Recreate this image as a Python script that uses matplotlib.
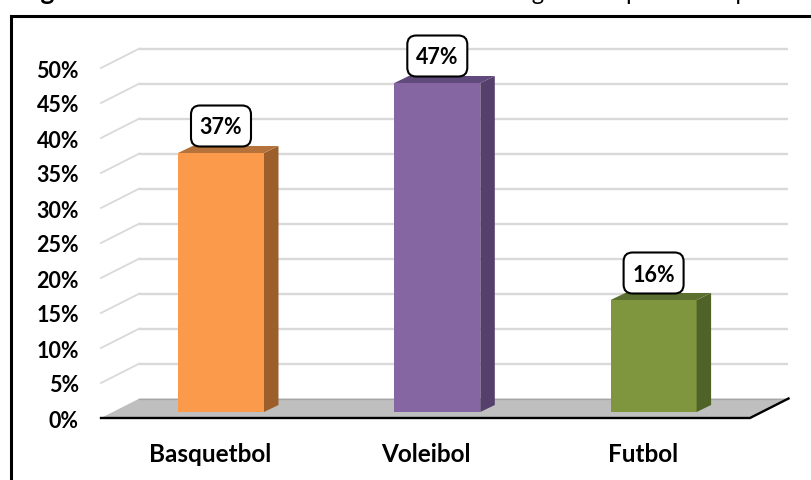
import matplotlib
matplotlib.use('Agg')
import matplotlib.pyplot as plt
from matplotlib.lines import Line2D
from matplotlib.patches import FancyBboxPatch

plt.rcParams['font.family'] = ['Lato', 'DejaVu Sans']

# Data
categories = ['Basquetbol', 'Voleibol', 'Futbol']
values = [37, 47, 16]
tick_values = list(range(0, 55, 5))
front_colors = ['#FB9A4B', '#8566A3', '#7F963F']
side_colors = ['#9C5F2B', '#553F6B', '#4F6228']
top_colors = ['#B5723A', '#604A7B', '#5B7030']

W, H = 812, 480
x_unit = 216.3   # pixels per category
y_unit = 7.0     # pixels per percent
x_origin = 221   # pixel of the first category
y_origin = 412   # pixel of 0% at the bar foot

fig = plt.figure(figsize=(W / 100, H / 100), dpi=100)
ax = fig.add_axes([0, 0, 1, 1])
ax.set_xlim(-x_origin / x_unit, (W - x_origin) / x_unit)
ax.set_ylim((y_origin - H) / y_unit, y_origin / y_unit)
ax.axis('off')

# Depth offsets, in data units
floor_dx = 38.5 / x_unit
floor_dy = 19.5 / y_unit
floor_y = -6 / y_unit
bar_dx = 14.5 / x_unit
bar_dy = 7 / y_unit
half_w = 43 / x_unit
left_x = (101 - x_origin) / x_unit
right_x = (750 - x_origin) / x_unit

# Back wall gridlines and the slanted part on the left side
for v in tick_values[1:]:
    y0 = floor_y + v
    ax.plot([left_x + floor_dx, right_x + floor_dx], [y0 + floor_dy] * 2,
            color='#D9D9D9', lw=1.7, solid_capstyle='butt', zorder=1)
    ax.plot([left_x, left_x + floor_dx], [y0, y0 + floor_dy],
            color='#D9D9D9', lw=1.3, zorder=1)

# Floor
ax.fill([left_x, left_x + floor_dx, right_x + floor_dx, right_x],
        [floor_y, floor_y + floor_dy, floor_y + floor_dy, floor_y],
        color='#BFBFBF', lw=0, zorder=2)
ax.plot([left_x + floor_dx, right_x + floor_dx], [floor_y + floor_dy] * 2,
        color='#A6A6A6', lw=0.9, zorder=2)
ax.plot([left_x, right_x, right_x + floor_dx], [floor_y, floor_y, floor_y + floor_dy],
        color='black', lw=1.7, zorder=3)

# Bars with side and top faces
for i, v in enumerate(values):
    xl = i - half_w
    xr = i + half_w
    ax.bar(i, v, width=2 * half_w, color=front_colors[i], lw=0, zorder=4)
    ax.fill([xr, xr + bar_dx, xr + bar_dx, xr], [0, bar_dy, v + bar_dy, v],
            color=side_colors[i], lw=0, zorder=4)
    ax.fill([xl, xl + bar_dx, xr + bar_dx, xr], [v, v + bar_dy, v + bar_dy, v],
            color=top_colors[i], lw=0, zorder=4)

    # Value callout
    bw = 60 / x_unit
    bh = 41 / y_unit
    cy = v + 27 / y_unit
    box = FancyBboxPatch((i - bw / 2, cy - bh / 2), bw, bh,
                         boxstyle=f'round,pad=0,rounding_size={9 / x_unit}',
                         mutation_aspect=x_unit / y_unit,
                         fc='white', ec='black', lw=1.5, zorder=5)
    ax.add_patch(box)
    ax.text(i, cy - 2 / y_unit, f'{v}%', ha='center', va='center', fontsize=15.5,
            fontweight='bold', color='black', zorder=6)

    # Category label
    ax.text(i - 11 / x_unit, (y_origin - 454) / y_unit, categories[i], ha='center', va='center',
            fontsize=17.5, fontweight='bold', color='black')

# Percent labels
for v in tick_values:
    ax.text((79 - x_origin) / x_unit, floor_y + v - 3 / y_unit, f'{v}%', ha='right', va='center',
            fontsize=15.5, fontweight='bold', color='black')

# Outer frame, running off the right and bottom edges
fig.add_artist(Line2D([11 / W, 11 / W, 1], [0, 1 - 15.5 / H, 1 - 15.5 / H],
                      color='black', lw=2.2, solid_joinstyle='miter'))

# Caption, mostly cut off by the top edge
title_y = (y_origin + 0) / y_unit
ax.text((20 - x_origin) / x_unit, title_y, 'Figura', fontsize=19, fontweight='bold',
        va='baseline', ha='left', color='black', clip_on=False)
ax.text((509 - x_origin) / x_unit, title_y, 'según el deporte más practicado', fontsize=17,
        va='baseline', ha='left', color='black', clip_on=False)

fig.savefig('out.png', dpi=100, facecolor='white')
